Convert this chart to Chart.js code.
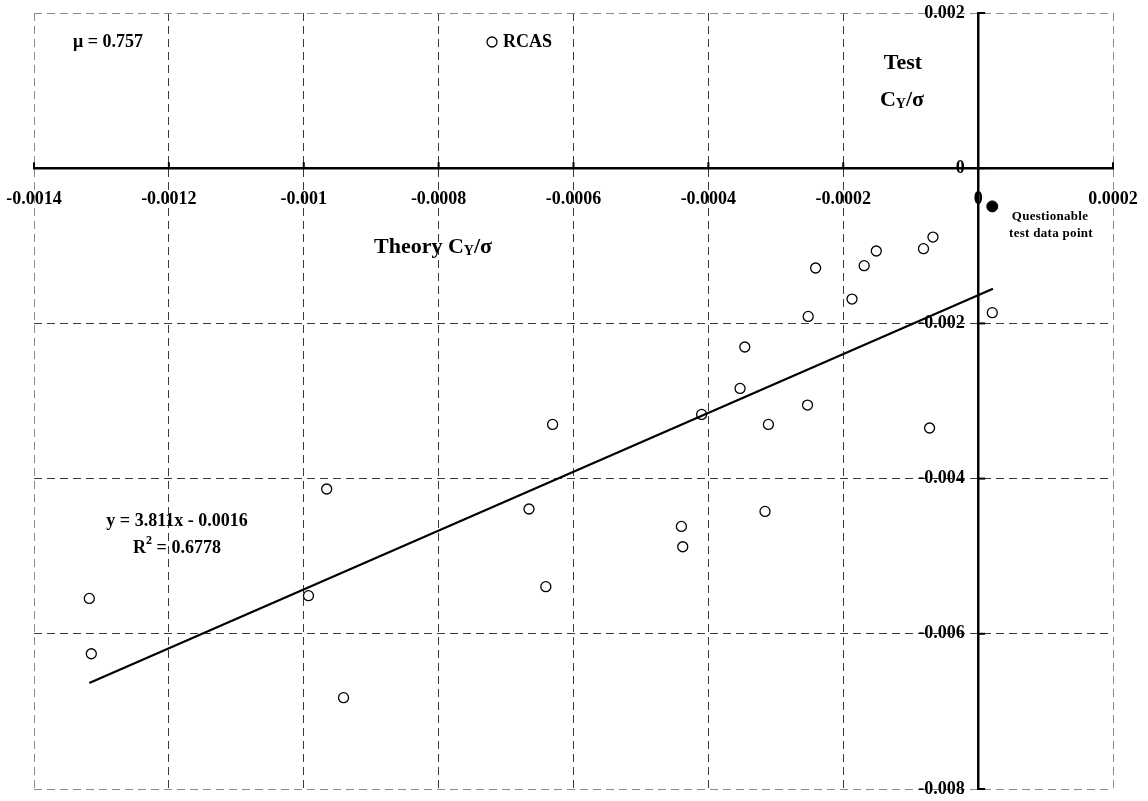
<!DOCTYPE html>
<html>
<head>
<meta charset="utf-8">
<script src="https://cdn.jsdelivr.net/npm/chart.js@4/dist/chart.umd.min.js"></script>
<style>
  html, body { margin: 0; padding: 0; background: #fff; }
  #wrap { width: 1148px; height: 801px; position: relative; }
</style>
</head>
<body>
<div id="wrap"><canvas id="chart"></canvas></div>
<script>
// theory Cy/sigma (x) vs test Cy/sigma (y), RCAS points
const rcasX = [-0.001318, -0.001315, -0.000993, -0.000966, -0.000941, -0.000666, -0.000641, -0.000631,
  -0.000440, -0.000438, -0.000410, -0.000353, -0.000346, -0.000316, -0.000311, -0.000253, -0.000252,
  -0.000241, -0.000187, -0.000169, -0.000151, -0.000081, -0.000072, -0.000067, 0.000021];
const rcasY = [-0.005544, -0.006257, -0.005509, -0.004134, -0.006823, -0.004392, -0.005393, -0.003302,
  -0.004616, -0.004878, -0.003173, -0.002838, -0.002304, -0.004423, -0.003302, -0.003052, -0.001910,
  -0.001286, -0.001686, -0.001256, -0.001067, -0.001037, -0.003348, -0.000887, -0.001862];

const questionableX = [0.000021];
const questionableY = [-0.000492];

// trend line end points
const trendX = [-0.001318, 0.000022];
const trendY = [-0.006634, -0.001553];

const xTickValues = [-0.0014, -0.0012, -0.001, -0.0008, -0.0006, -0.0004, -0.0002, 0, 0.0002];
const yTickValues = [0.002, 0, -0.002, -0.004, -0.006, -0.008];

const SERIF = '"Liberation Serif", "Times New Roman", serif';

const toPts = (xs, ys) => xs.map((x, i) => ({ x: x, y: ys[i] }));

// draw a run of text pieces (with sub/superscripts) centred or left-aligned
function drawParts(ctx, parts, x, y, align) {
  let total = 0;
  parts.forEach(p => { ctx.font = p.font; total += ctx.measureText(p.t).width; });
  let cx = align === 'center' ? x - total / 2 : x;
  parts.forEach(p => {
    ctx.font = p.font;
    ctx.fillText(p.t, cx, y + (p.dy || 0));
    cx += ctx.measureText(p.t).width;
  });
}

const annotations = {
  id: 'annotations',
  afterDraw(chart) {
    const ctx = chart.ctx;
    const xs = chart.scales.x, ys = chart.scales.y;
    const x0 = xs.getPixelForValue(0), y0 = ys.getPixelForValue(0);
    ctx.save();
    // small tick marks on the axes
    ctx.strokeStyle = '#000';
    ctx.lineWidth = 2;
    xTickValues.forEach(v => {
      const px = xs.getPixelForValue(v);
      ctx.beginPath(); ctx.moveTo(px, y0 - 6); ctx.lineTo(px, y0); ctx.stroke();
    });
    yTickValues.forEach(v => {
      const py = ys.getPixelForValue(v);
      ctx.beginPath(); ctx.moveTo(x0, py); ctx.lineTo(x0 + 7, py); ctx.stroke();
    });

    ctx.fillStyle = '#000';
    ctx.textBaseline = 'middle';
    const b18 = 'bold 18px ' + SERIF;
    const b22 = 'bold 22px ' + SERIF;
    const b14 = 'bold 14px ' + SERIF;
    const b12 = 'bold 12px ' + SERIF;

    ctx.textAlign = 'left';
    drawParts(ctx, [{ t: '\u03bc = 0.757', font: b18 }], 108, 42, 'center');

    // legend
    ctx.beginPath();
    ctx.arc(492, 42, 5, 0, Math.PI * 2);
    ctx.fillStyle = '#fff'; ctx.fill();
    ctx.lineWidth = 1.3; ctx.strokeStyle = '#000'; ctx.stroke();
    ctx.fillStyle = '#000';
    drawParts(ctx, [{ t: 'RCAS', font: b18 }], 503, 42, 'left');

    // axis titles
    drawParts(ctx, [{ t: 'Test', font: b22 }], 903, 63, 'center');
    drawParts(ctx, [{ t: 'C', font: b22 }, { t: 'Y', font: b14, dy: 4 }, { t: '/\u03c3', font: b22 }], 902, 100, 'center');
    drawParts(ctx, [{ t: 'Theory C', font: b22 }, { t: 'Y', font: b14, dy: 4 }, { t: '/\u03c3', font: b22 }], 374, 247, 'left');

    // trend equation
    drawParts(ctx, [{ t: 'y = 3.811x - 0.0016', font: b18 }], 177, 521, 'center');
    drawParts(ctx, [{ t: 'R', font: b18 }, { t: '2', font: b12, dy: -7 }, { t: ' = 0.6778', font: b18 }], 177, 548, 'center');

    // note on the filled point
    ctx.letterSpacing = '0.3px';
    drawParts(ctx, [{ t: 'Questionable', font: 'bold 13px ' + SERIF }], 1050, 217, 'center');
    drawParts(ctx, [{ t: 'test data point', font: 'bold 13px ' + SERIF }], 1051, 234, 'center');
    ctx.restore();
  }
};

const fmt = v => String(+Number(v).toPrecision(6));
const gridColor = (ctx, vals) => {
  const v = ctx.tick ? ctx.tick.value : null;
  return (v === vals[0] || v === vals[vals.length - 1]) ? '#8a8a8a' : '#3a3a3a';
};

new Chart(document.getElementById('chart').getContext('2d'), {
  type: 'scatter',
  data: {
    datasets: [
      { label: 'Trend', data: toPts(trendX, trendY), showLine: true, borderColor: '#000', borderWidth: 2.2,
        pointRadius: 0, fill: false },
      { label: 'Questionable', data: toPts(questionableX, questionableY), pointRadius: 5.5,
        backgroundColor: '#000', borderColor: '#000', borderWidth: 1 },
      { label: 'RCAS', data: toPts(rcasX, rcasY), pointRadius: 5, pointStyle: 'circle',
        backgroundColor: '#fff', borderColor: '#000', borderWidth: 1.3 }
    ]
  },
  options: {
    responsive: true,
    maintainAspectRatio: false,
    animation: false,
    layout: { padding: { left: 34, right: 35, top: 13, bottom: 12 } },
    plugins: { legend: { display: false }, tooltip: { enabled: false } },
    scales: {
      x: {
        type: 'linear',
        min: -0.0014, max: 0.0002,
        position: { y: 0 },
        afterBuildTicks: s => { s.ticks = xTickValues.map(v => ({ value: v })); },
        grid: { color: c => gridColor(c, xTickValues), lineWidth: 1, drawTicks: true, tickLength: 18, tickWidth: 0 },
        border: { display: true, color: '#000', width: 2.5, dash: [8, 5] },
        ticks: { padding: 2, maxRotation: 0, autoSkip: false, color: '#000',
          font: { family: SERIF, size: 18, weight: 'bold' }, callback: v => fmt(v) }
      },
      y: {
        type: 'linear',
        min: -0.008, max: 0.002,
        position: { x: 0 },
        afterBuildTicks: s => { s.ticks = yTickValues.map(v => ({ value: v })); },
        grid: { color: c => gridColor(c, yTickValues), lineWidth: 1, drawTicks: true, tickLength: 14, tickWidth: 0 },
        border: { display: true, color: '#000', width: 2.5, dash: [8, 5] },
        // labels sit right-aligned on the axis line, so pad them with trailing spaces
        ticks: { padding: 0, autoSkip: false, color: '#000',
          font: { family: SERIF, size: 18, weight: 'bold' }, callback: v => fmt(v) + '   ' }
      }
    }
  },
  plugins: [annotations]
});
</script>
</body>
</html>
